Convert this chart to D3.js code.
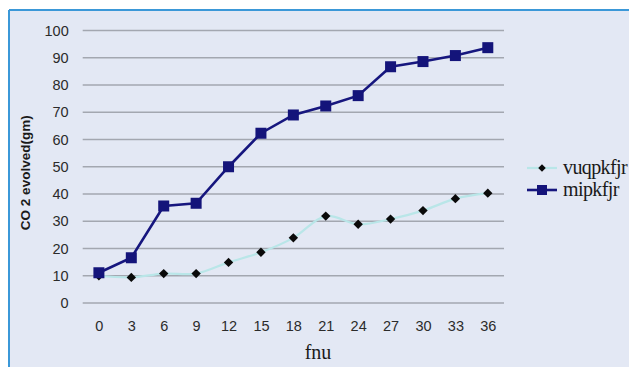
<!DOCTYPE html>
<html>
<head>
<meta charset="utf-8">
<script src="https://cdn.jsdelivr.net/npm/d3@7/dist/d3.min.js"></script>
<style>
  html, body { margin: 0; padding: 0; background: #ffffff; }
  svg { display: block; }
</style>
</head>
<body>
<svg id="chart" width="629" height="367"></svg>
<script>
// Sampling days (x categories)
const days = [0, 3, 6, 9, 12, 15, 18, 21, 24, 27, 30, 33, 36];
// CO2 evolved (gm) for each series
const seriesA = [10, 9.4, 10.8, 10.8, 14.9, 18.6, 23.9, 31.9, 28.9, 30.8, 33.9, 38.3, 40.3];
const seriesB = [11.1, 16.6, 35.6, 36.6, 50.0, 62.3, 69.0, 72.3, 76.1, 86.7, 88.6, 90.8, 93.7];
const seriesNames = ["vuqpkfjr", "mipkfjr"];
const yTicks = [0, 10, 20, 30, 40, 50, 60, 70, 80, 90, 100];

const svg = d3.select("#chart");

// panel background with blue frame on top and left
svg.append("rect").attr("x", 9).attr("y", 10).attr("width", 629).attr("height", 367)
  .attr("fill", "#e3e8f4");
svg.append("line").attr("x1", 9).attr("x2", 629).attr("y1", 10).attr("y2", 10)
  .attr("stroke", "#3b98d8").attr("stroke-width", 2);
svg.append("line").attr("x1", 9).attr("x2", 9).attr("y1", 10).attr("y2", 367)
  .attr("stroke", "#3b98d8").attr("stroke-width", 2);

const plot = { left: 82.7, right: 504, top: 30.5, bottom: 303 };

const x = d3.scalePoint().domain(days).range([plot.left, plot.right]).padding(0.5);
const y = d3.scaleLinear().domain([0, 100]).range([plot.bottom, plot.top]);

const sans = "Liberation Sans, Arial, sans-serif";
const serif = "Liberation Serif, Times New Roman, serif";

// horizontal gridlines
svg.append("g").selectAll("line").data(yTicks).join("line")
  .attr("x1", plot.left).attr("x2", plot.right)
  .attr("y1", d => y(d)).attr("y2", d => y(d))
  .attr("stroke", "#a3a7b0").attr("stroke-width", 1.3);

// y axis labels
const yAxis = svg.append("g").attr("transform", `translate(${plot.left},0)`)
  .call(d3.axisLeft(y).tickValues(yTicks).tickSize(0).tickPadding(14));
yAxis.select(".domain").remove();
yAxis.selectAll("text")
  .attr("font-family", sans).attr("font-size", 14.5).attr("fill", "#2b2b2b");

// x axis labels
const xAxis = svg.append("g").attr("transform", `translate(0,${plot.bottom})`)
  .call(d3.axisBottom(x).tickSize(0).tickPadding(18));
xAxis.select(".domain").remove();
xAxis.selectAll("text")
  .attr("font-family", sans).attr("font-size", 14.5).attr("fill", "#2b2b2b");

// axis titles
svg.append("text")
  .attr("transform", `translate(30,${(plot.top + plot.bottom) / 2 + 6}) rotate(-90)`)
  .attr("text-anchor", "middle")
  .attr("font-family", sans)
  .attr("font-weight", "bold").attr("font-size", 13.5).attr("fill", "#1a1a1a")
  .text("CO 2 evolved(gm)");

svg.append("text")
  .attr("x", 318).attr("y", 359)
  .attr("text-anchor", "middle")
  .attr("font-family", serif)
  .attr("font-size", 20).attr("fill", "#1a1a1a")
  .text("fnu");

// series A: smooth light cyan line with black diamonds
const lineA = d3.line().x((d, i) => x(days[i])).y(d => y(d)).curve(d3.curveCatmullRom.alpha(0.5));
svg.append("path").datum(seriesA)
  .attr("d", lineA).attr("fill", "none")
  .attr("stroke", "#b9e6e8").attr("stroke-width", 2.2);

svg.append("g").selectAll("path").data(seriesA).join("path")
  .attr("transform", (d, i) => `translate(${x(days[i])},${y(d)}) rotate(45)`)
  .attr("d", d3.symbol().type(d3.symbolSquare).size(44))
  .attr("fill", "#0a0a0a");

// series B: navy line with square markers
const lineB = d3.line().x((d, i) => x(days[i])).y(d => y(d));
svg.append("path").datum(seriesB)
  .attr("d", lineB).attr("fill", "none")
  .attr("stroke", "#16167e").attr("stroke-width", 2.6);

svg.append("g").selectAll("rect").data(seriesB).join("rect")
  .attr("x", (d, i) => x(days[i]) - 5.5).attr("y", d => y(d) - 5.5)
  .attr("width", 11).attr("height", 11)
  .attr("fill", "#14147a");

// legend
const lg = svg.append("g");
const ly = [168, 190];
lg.append("line").attr("x1", 527).attr("x2", 557).attr("y1", ly[0]).attr("y2", ly[0])
  .attr("stroke", "#b9e6e8").attr("stroke-width", 2.2);
lg.append("path").attr("transform", `translate(542,${ly[0]}) rotate(45)`)
  .attr("d", d3.symbol().type(d3.symbolSquare).size(28)).attr("fill", "#0a0a0a");
lg.append("line").attr("x1", 527).attr("x2", 557).attr("y1", ly[1]).attr("y2", ly[1])
  .attr("stroke", "#16167e").attr("stroke-width", 2.6);
lg.append("rect").attr("x", 537).attr("y", ly[1] - 5).attr("width", 10).attr("height", 10)
  .attr("fill", "#14147a");
lg.selectAll("text").data(seriesNames).join("text")
  .attr("x", 563).attr("y", (d, i) => ly[i] + 6)
  .attr("font-family", serif)
  .attr("font-size", 20).attr("letter-spacing", -0.6).attr("fill", "#1a1a1a")
  .text(d => d);
</script>
</body>
</html>
